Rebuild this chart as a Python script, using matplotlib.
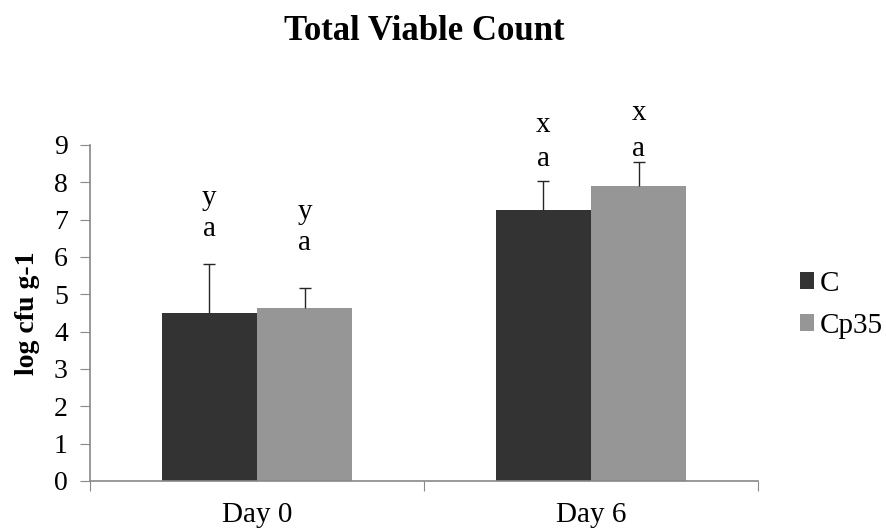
import matplotlib.pyplot as plt
import numpy as np

plt.rcParams['font.family'] = ['Liberation Serif', 'DejaVu Serif']

# ---- Data ----
days = ["Day 0", "Day 6"]
c_vals = [4.49, 7.25]
c_err = [1.32, 0.79]
cp_vals = [4.63, 7.89]
cp_err = [0.54, 0.65]
c_letters = [("y", "a"), ("x", "a")]
cp_letters = [("y", "a"), ("x", "a")]
c_letter_y = [(7.58, 6.75), (9.52, 8.63)]
cp_letter_y = [(7.20, 6.37), (9.84, 8.90)]

fig = plt.figure(figsize=(8.86, 5.31), dpi=100)
ax = fig.add_axes([0.1016, 0.0942, 0.754, 0.633])

x = np.arange(len(days))
w = 0.285
ax.bar(x - w / 2, c_vals, w, color="#333333", label="C")
ax.bar(x + w / 2, cp_vals, w, color="#969696", label="Cp35")

# upper-only error bars
for xs, vals, errs in [(x - w / 2, c_vals, c_err), (x + w / 2, cp_vals, cp_err)]:
    eb = ax.errorbar(xs, vals, yerr=[np.zeros(len(errs)), errs], fmt="none",
                     ecolor="#262626", elinewidth=1, capsize=4.5, capthick=1)
    eb[1][0].set_visible(False)

# significance letters
for i in range(len(days)):
    for txt, yy in zip(c_letters[i], c_letter_y[i]):
        ax.text(x[i] - w / 2, yy, txt, ha="center", va="center", fontsize=21)
    for txt, yy in zip(cp_letters[i], cp_letter_y[i]):
        ax.text(x[i] + w / 2, yy, txt, ha="center", va="center", fontsize=21)

ax.set_xlim(-0.5, 1.5)
ax.set_ylim(0, 9)
ax.set_yticks(range(10))
ax.set_xticks([-0.5, 0.5, 1.5])
ax.set_xticklabels([])
ax.set_xticks(x, minor=True)
ax.set_xticklabels(days, minor=True)
ax.tick_params(axis="x", which="minor", length=0, labelsize=21, pad=15)
ax.tick_params(axis="x", which="major", length=7, color="#888888", direction="out")
ax.tick_params(axis="y", length=7, color="#888888", labelsize=20, pad=9)

for s in ["top", "right"]:
    ax.spines[s].set_visible(False)
for s in ["left", "bottom"]:
    ax.spines[s].set_color("#888888")
    ax.spines[s].set_linewidth(1.2)

ax.set_ylabel("log cfu g-1", fontsize=20, fontweight="bold", labelpad=10)

fig.text(0.4786, 0.925, "Total Viable Count", fontsize=25, fontweight="bold",
         ha="center", va="baseline")

ax.legend(loc="center left", bbox_to_anchor=(1.063, 0.524), frameon=False,
          fontsize=21, handlelength=0.48, handleheight=0.48, handletextpad=0.2,
          labelspacing=0.55, borderpad=0, borderaxespad=0)

plt.savefig("out.png", dpi=100)
